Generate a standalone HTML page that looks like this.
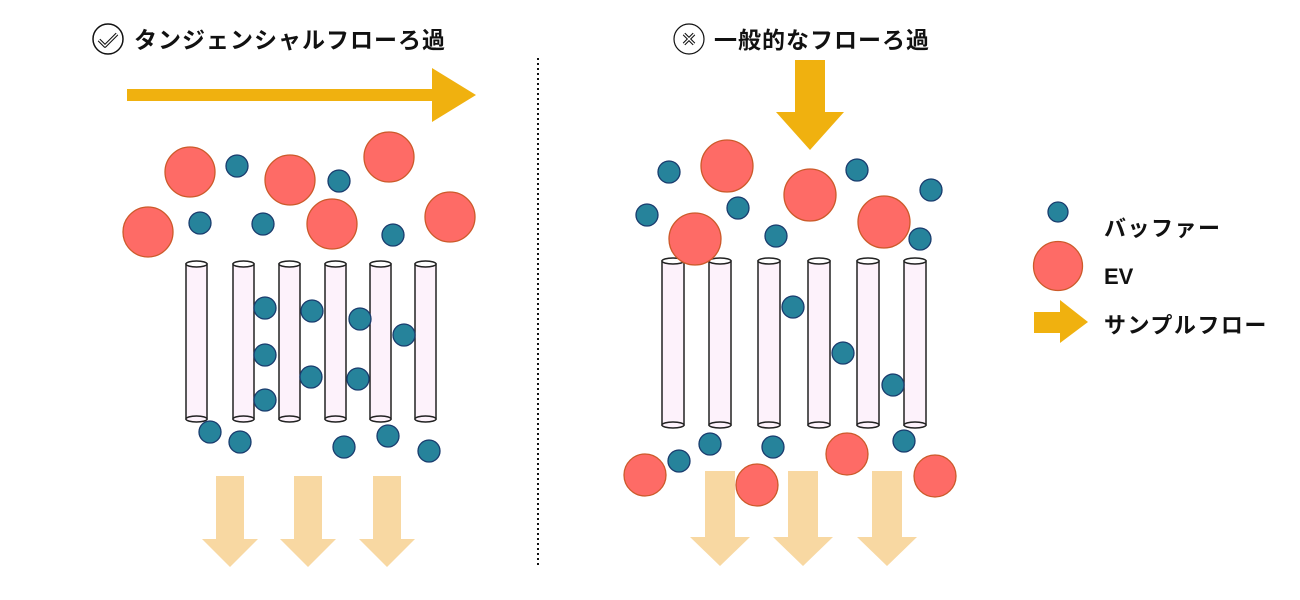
<!DOCTYPE html>
<html><head><meta charset="utf-8"><style>
html,body{margin:0;padding:0;background:#fff;width:1300px;height:600px;overflow:hidden}
text{font-family:"Liberation Sans","Noto Sans CJK JP",sans-serif;font-weight:bold;fill:#111}
</style></head><body>
<svg width="1300" height="600" viewBox="0 0 1300 600" xmlns="http://www.w3.org/2000/svg">
<defs>
<g id="tubeL"><rect x="0" y="0" width="21" height="155" fill="#fdf2fb" stroke="#222" stroke-width="1.5"/><ellipse cx="10.5" cy="155" rx="10.5" ry="3" fill="#fdf2fb" stroke="#222" stroke-width="1.5"/><ellipse cx="10.5" cy="0" rx="10.5" ry="3" fill="#fff" stroke="#222" stroke-width="1.5"/></g>
<g id="tubeR"><rect x="0" y="0" width="22" height="164" fill="#fdf2fb" stroke="#222" stroke-width="1.5"/><ellipse cx="11" cy="164" rx="11" ry="3" fill="#fdf2fb" stroke="#222" stroke-width="1.5"/><ellipse cx="11" cy="0" rx="11" ry="3" fill="#fff" stroke="#222" stroke-width="1.5"/></g>
</defs>
<circle cx="108" cy="39" r="15" fill="none" stroke="#111" stroke-width="1.5"/>
<path d="M99 40 l6 6 l12 -12" fill="none" stroke="#111" stroke-width="3.5" stroke-linejoin="round"/>
<path d="M99 40 l6 6 l12 -12" fill="none" stroke="#fff" stroke-width="1.4" stroke-linejoin="round"/>
<text x="134" y="48" font-size="23" letter-spacing="1">タンジェンシャルフローろ過</text>
<circle cx="689" cy="39" r="15" fill="none" stroke="#111" stroke-width="1.2"/>
<path d="M684 34 l10 10 M694 34 l-10 10" stroke="#111" stroke-width="3.5"/>
<path d="M684 34 l10 10 M694 34 l-10 10" stroke="#fff" stroke-width="1.3"/>
<text x="714" y="48" font-size="23" letter-spacing="1">一般的なフローろ過</text>
<line x1="538" y1="58" x2="538" y2="565" stroke="#111" stroke-width="2" stroke-dasharray="2,3"/>
<polygon points="127,89 432,89 432,68 476,95 432,122 432,101 127,101" fill="#f0b10f"/>
<polygon points="795,60 825,60 825,112 844,112 810,150 776,112 795,112" fill="#f0b10f"/>
<g fill="#f8d8a2">
<polygon points="216,476 244,476 244,539 258,539 230,567 202,539 216,539"/>
<polygon points="294,476 322,476 322,539 336,539 308,567 280,539 294,539"/>
<polygon points="373,476 401,476 401,539 415,539 387,567 359,539 373,539"/>
<polygon points="705,471 735,471 735,537 750,537 720,566 690,537 705,537"/>
<polygon points="788,471 818,471 818,537 833,537 803,566 773,537 788,537"/>
<polygon points="872,471 902,471 902,537 917,537 887,566 857,537 872,537"/>
</g>
<use href="#tubeL" x="186" y="264"/><use href="#tubeL" x="233" y="264"/><use href="#tubeL" x="279" y="264"/>
<use href="#tubeL" x="325" y="264"/><use href="#tubeL" x="370" y="264"/><use href="#tubeL" x="415" y="264"/>
<use href="#tubeR" x="662" y="261"/><use href="#tubeR" x="709" y="261"/><use href="#tubeR" x="758" y="261"/>
<use href="#tubeR" x="808" y="261"/><use href="#tubeR" x="857" y="261"/><use href="#tubeR" x="904" y="261"/>
<g fill="#fe6b66" stroke="#cc5a2a" stroke-width="1.3">
<circle cx="190" cy="172" r="25"/><circle cx="290" cy="180" r="25"/><circle cx="389" cy="157" r="25"/>
<circle cx="148" cy="232" r="25"/><circle cx="332" cy="224" r="25"/><circle cx="450" cy="217" r="25"/>
<circle cx="727" cy="166" r="26"/><circle cx="810" cy="195" r="26"/><circle cx="884" cy="222" r="26"/>
<circle cx="695" cy="239" r="26"/><circle cx="645" cy="475" r="21"/><circle cx="757" cy="485" r="21"/>
<circle cx="847" cy="454" r="21"/><circle cx="935" cy="476" r="21"/>
<circle cx="1058" cy="266" r="24.5"/>
</g>
<g fill="#26839b" stroke="#1a3c6e" stroke-width="1.3">
<circle cx="237" cy="166" r="11"/><circle cx="339" cy="181" r="11"/><circle cx="200" cy="223" r="11"/>
<circle cx="263" cy="224" r="11"/><circle cx="393" cy="235" r="11"/>
<circle cx="265" cy="308" r="11"/><circle cx="265" cy="355" r="11"/><circle cx="265" cy="400" r="11"/>
<circle cx="312" cy="311" r="11"/><circle cx="311" cy="377" r="11"/><circle cx="360" cy="319" r="11"/>
<circle cx="358" cy="379" r="11"/><circle cx="404" cy="335" r="11"/>
<circle cx="210" cy="432" r="11"/><circle cx="240" cy="442" r="11"/><circle cx="344" cy="447" r="11"/>
<circle cx="388" cy="436" r="11"/><circle cx="429" cy="451" r="11"/>
<circle cx="669" cy="172" r="11"/><circle cx="857" cy="170" r="11"/><circle cx="931" cy="190" r="11"/>
<circle cx="647" cy="215" r="11"/><circle cx="738" cy="208" r="11"/><circle cx="776" cy="236" r="11"/>
<circle cx="920" cy="239" r="11"/>
<circle cx="793" cy="307" r="11"/><circle cx="843" cy="353" r="11"/><circle cx="893" cy="385" r="11"/>
<circle cx="679" cy="461" r="11"/><circle cx="710" cy="444" r="11"/><circle cx="773" cy="447" r="11"/>
<circle cx="904" cy="441" r="11"/>
<circle cx="1058" cy="212" r="10"/>
</g>
<polygon points="1034,312 1060,312 1060,300 1088,322 1060,343 1060,333 1034,333" fill="#f0b10f"/>
<text x="1104" y="236" font-size="22" letter-spacing="1.5">バッファー</text>
<text x="1104" y="284" font-size="22">EV</text>
<text x="1104" y="333" font-size="22" letter-spacing="1.5">サンプルフロー</text>
</svg>
</body></html>
